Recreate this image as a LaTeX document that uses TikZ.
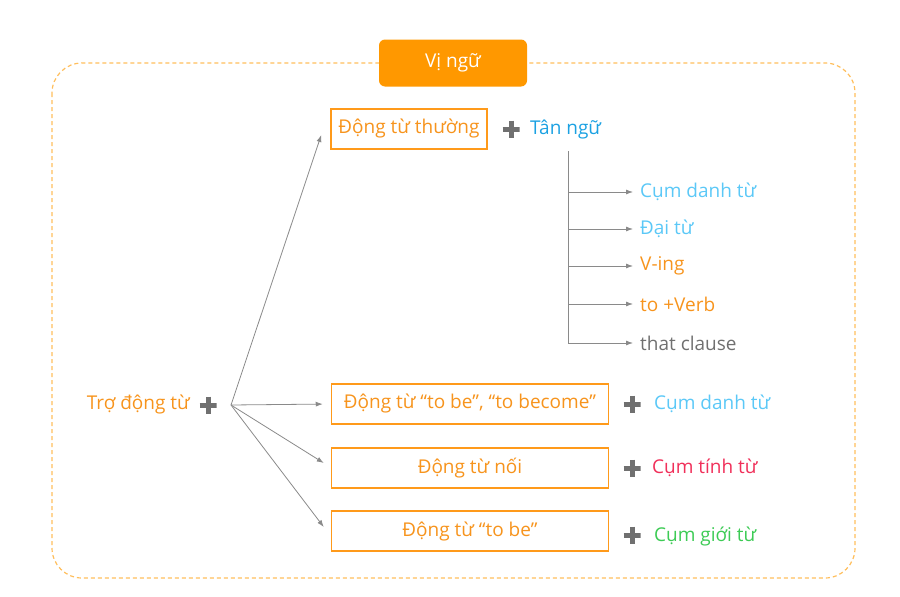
\documentclass[tikz,border=0pt]{standalone}
\usepackage{fontspec}
\setmainfont{Open Sans}
\usepackage{xcolor}
\definecolor{titlefill}{HTML}{FF9800}
\definecolor{verbcolor}{HTML}{F7941D}
\definecolor{boxborder}{HTML}{FF9A1A}
\definecolor{framecolor}{HTML}{FFBE5C}
\definecolor{pluscolor}{HTML}{707070}
\definecolor{linkcolor}{HTML}{8A8A8A}
\definecolor{objblue}{HTML}{1BA1E2}
\definecolor{lightblue}{HTML}{5BC8F7}
\definecolor{adjred}{HTML}{F0305A}
\definecolor{prepgreen}{HTML}{3DCB55}
\definecolor{clausegray}{HTML}{707070}
\usepackage{tikz}
\usetikzlibrary{positioning,arrows.meta}
\tikzset{
    title/.style={
        rectangle,
        rounded corners=6pt,
        fill=titlefill,
        text=white,
        minimum width=148pt,
        minimum height=47pt,
        font=\fontsize{19}{22}\selectfont,
    },
    verbbox/.style={
        rectangle,
        draw=boxborder,
        fill=white,
        text=verbcolor,
        minimum height=40pt,
        line width=1.5pt,
        align=center,
        font=\fontsize{19}{22}\selectfont,
    },
    plussign/.style={
        minimum size=17pt,
        inner sep=0pt,
        path picture={
            \draw[pluscolor, line width=5pt]
                (path picture bounding box.north) -- (path picture bounding box.south)
                (path picture bounding box.west) -- (path picture bounding box.east);
        },
    },
    label/.style={
        anchor=west,
        inner sep=0pt,
        font=\fontsize{19}{22}\selectfont,
    },
    link/.style={
        ->,
        >={Latex[length=7pt,width=5pt]},
        line width=0.8pt,
        linkcolor,
    },
    frame/.style={
        draw=framecolor,
        dashed,
        dash pattern=on 4pt off 3pt,
        line width=1.2pt,
        rounded corners=30pt,
    },
}
\begin{document}
\begin{tikzpicture}[x=1pt, y=-1pt]
    \useasboundingbox (0,0) rectangle (900,597);

    % Outer frame
    \draw[frame] (52,63) rectangle (855,578);

    % Title
    \node[title] (vingu) at (453,63) {Vị ngữ};

    % Ordinary verb + object
    \node[verbbox, minimum width=156pt] (thuong) at (409,129) {Động từ thường};
    \node[plussign] (plus1) at (511,129) {};
    \node[label, text=objblue] (tanngu) at (530,130) {Tân ngữ};
    \coordinate (trunk) at (568,151);

    % Object kinds
    \node[label, text=lightblue] (cumdanh1) at (640,192) {Cụm danh từ};
    \node[label, text=lightblue] (daitu) at (640,229) {Đại từ};
    \node[label, text=verbcolor] (ving) at (640,266) {V-ing};
    \node[label, text=verbcolor] (toverb) at (640,304) {to +Verb};
    \node[label, text=clausegray] (that) at (640,343) {that clause};

    % Auxiliary verb
    \node[label, anchor=east, text=verbcolor] (trodt) at (190,405) {Trợ động từ};
    \node[plussign] (plus0) at (208,405) {};
    \coordinate (fork) at (231,405);

    % Other verb boxes
    \node[verbbox, minimum width=277pt] (tobe2) at (470,404) {Động từ “to be”, “to become”};
    \node[verbbox, minimum width=277pt] (noi) at (470,468) {Động từ nối};
    \node[verbbox, minimum width=277pt] (tobe) at (470,531) {Động từ “to be”};

    \node[plussign] (plus2) at (632,404) {};
    \node[plussign] (plus3) at (632,468) {};
    \node[plussign] (plus4) at (632,535) {};
    \node[label, text=lightblue] (cumdanh2) at (654,404) {Cụm danh từ};
    \node[label, text=adjred] (cumtinh) at (652,468) {Cụm tính từ};
    \node[label, text=prepgreen] (cumgioi) at (654,536) {Cụm giới từ};

    % Object branches
    \foreach \obj in {cumdanh1,daitu,ving,toverb,that}
        \draw[link, shorten >=7pt] (trunk) |- (\obj.west);

    % Fork from auxiliary verb
    \draw[link] (fork) -- ([xshift=-9pt,yshift=-6pt]thuong.west);
    \draw[link, shorten >=8pt] (fork) -- (tobe2.west);
    \draw[link] (fork) -- ([xshift=-7pt,yshift=5pt]noi.west);
    \draw[link] (fork) -- ([xshift=-7pt,yshift=4pt]tobe.west);

\end{tikzpicture}
\end{document}
